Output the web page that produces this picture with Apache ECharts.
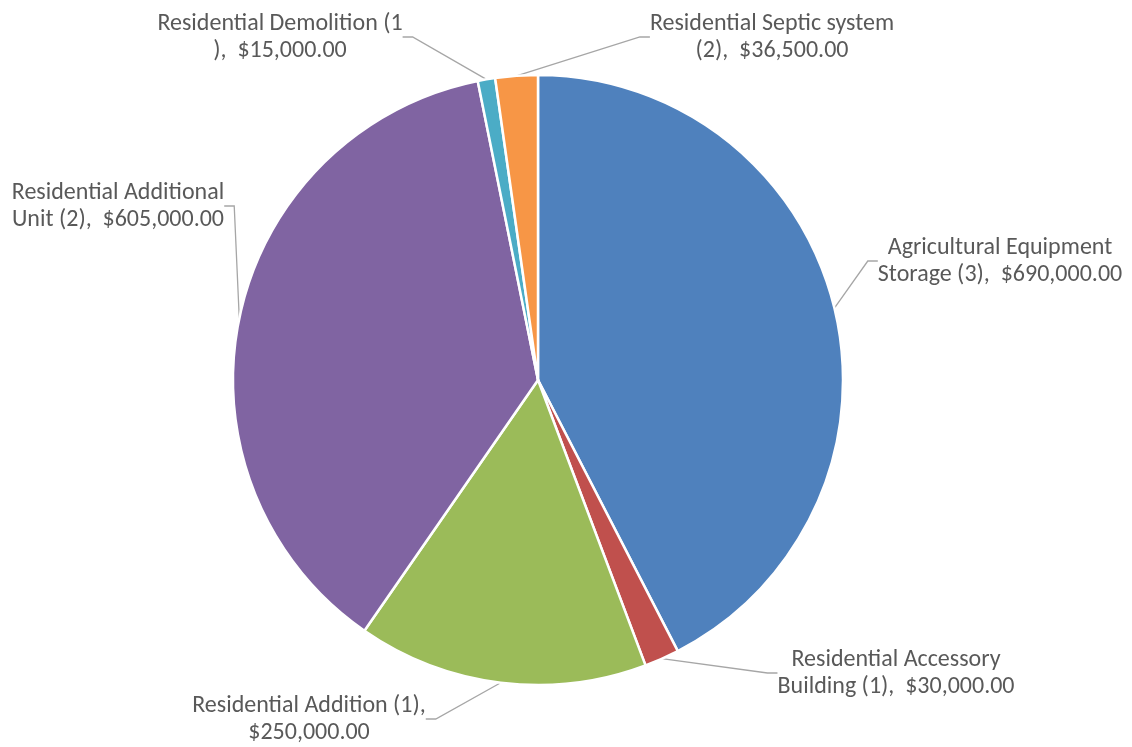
<!DOCTYPE html>
<html>
<head>
<meta charset="utf-8">
<script src="https://cdn.jsdelivr.net/npm/echarts@6/dist/echarts.min.js"></script>
<style>
html,body{margin:0;padding:0;background:#fff;}
#chart{width:1132px;height:747px;}
</style>
</head>
<body>
<div id="chart"></div>
<script>
const categories = [
  'Agricultural Equipment Storage (3)',
  'Residential Accessory Building (1)',
  'Residential Addition (1)',
  'Residential Additional Unit (2)',
  'Residential Demolition (1)',
  'Residential Septic system (2)'
];
const values = [690000, 30000, 250000, 605000, 15000, 36500];
const firstLines = [
  'Agricultural Equipment',
  'Residential Accessory',
  'Residential Addition (1),',
  'Residential Additional',
  'Residential Demolition (1',
  'Residential Septic system'
];
const colors = ['#4F81BD', '#C0504D', '#9BBB59', '#8064A2', '#4BACC6', '#F79646'];
// label anchor (center of text block) positions in px
const labelPos = [
  [1000, 261],
  [896, 673],
  [309, 719],
  [118, 206],
  [280, 37],
  [772, 37]
];

function money(v) {
  return '$' + v.toLocaleString('en-US', {minimumFractionDigits: 2, maximumFractionDigits: 2});
}

const chart = echarts.init(document.getElementById('chart'), null, {renderer: 'canvas'});
chart.setOption({
  animation: false,
  backgroundColor: '#fff',
  color: colors,
  series: [{
    type: 'pie',
    center: [538, 380],
    radius: 305,
    startAngle: 90,
    clockwise: true,
    avoidLabelOverlap: false,
    data: categories.map((c, i) => ({name: c, value: values[i]})),
    itemStyle: {borderColor: '#fff', borderWidth: 2.5},
    label: {
      show: true,
      color: '#595959',
      fontFamily: 'Carlito, Lato, sans-serif',
      fontSize: 24,
      lineHeight: 27,
      align: 'center',
      formatter: p => {
        const full = p.name + ',  ' + money(p.value);
        const first = firstLines[p.dataIndex];
        const rest = full.slice(first.length).trim();
        return first + '\n' + rest;
      }
    },
    labelLine: {
      show: true,
      length: 10,
      length2: 10,
      smooth: false,
      lineStyle: {color: '#A6A6A6', width: 1.3}
    },
    labelLayout: p => ({
      x: labelPos[p.dataIndex][0],
      y: labelPos[p.dataIndex][1],
      align: 'center',
      verticalAlign: 'middle'
    }),
    emphasis: {disabled: true}
  }]
});
</script>
</body>
</html>
